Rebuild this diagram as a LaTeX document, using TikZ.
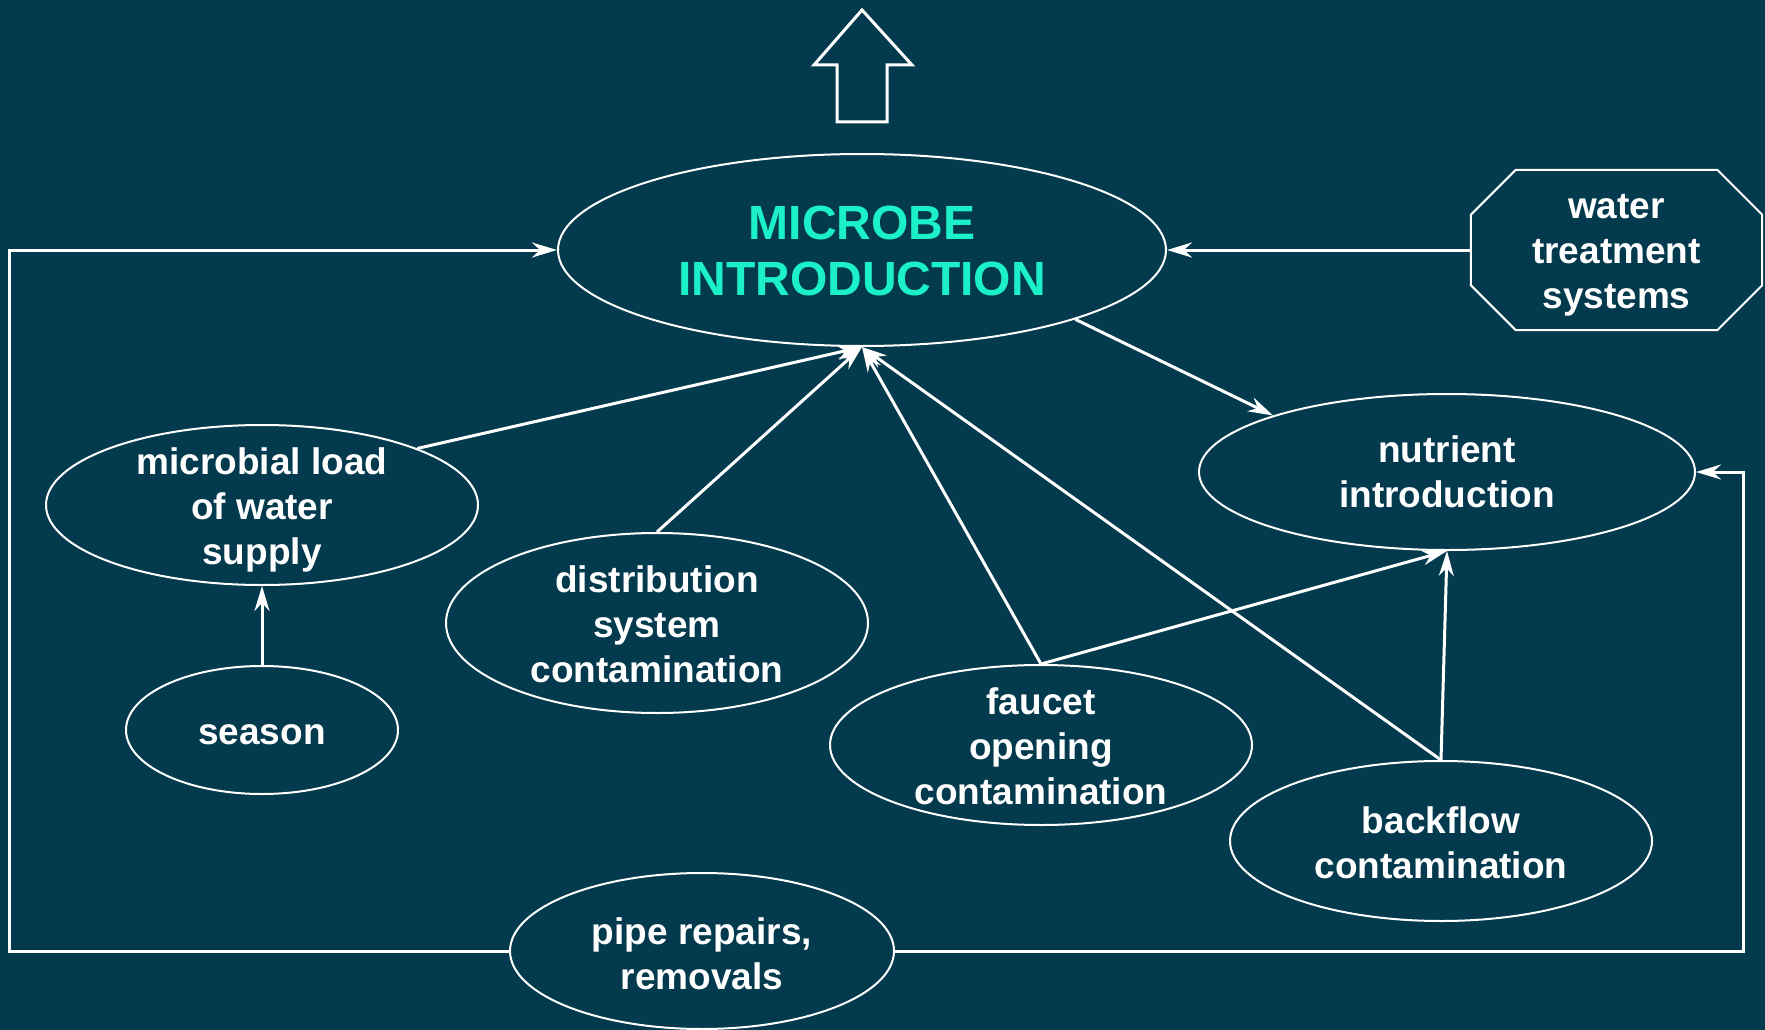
\documentclass[tikz,border=0pt]{standalone}
\usepackage{fontspec}
\setmainfont{Liberation Sans}
\usetikzlibrary{arrows.meta,shapes.geometric,calc}
\definecolor{bgteal}{HTML}{033A4D}
\definecolor{titlegreen}{HTML}{1CF0C8}
\tikzset{
  bubble/.style={ellipse, draw=white, line width=2pt, inner sep=0pt},
  words/.style={inner sep=0pt, text=white, align=center, yshift=#1,
    font=\bfseries\fontsize{37}{45}\selectfont},
  words/.default=-5pt,
  link/.style={draw=white, line width=3pt,
    -{Stealth[length=25pt, width=15pt, inset=8pt]}},
}
\begin{document}
\begin{tikzpicture}[x=1pt, y=-1pt]
  \fill[bgteal] (0,0) rectangle (1765,1030);
  \useasboundingbox (0,0) rectangle (1765,1030);

  % big outline arrow pointing up
  \draw[white, line width=3pt, line join=miter]
    (862,10) -- (912,65) -- (887,65) -- (887,122) -- (837,122)
    -- (837,65) -- (814,65) -- cycle;

  % ellipses
  \node[bubble, minimum width=608pt, minimum height=192pt] (micro) at (862,250) {};
  \node[bubble, minimum width=496pt, minimum height=156pt] (nutr) at (1447,472) {};
  \node[bubble, minimum width=432pt, minimum height=160pt] (load) at (262,505) {};
  \node[bubble, minimum width=272pt, minimum height=128pt] (season) at (262,730) {};
  \node[bubble, minimum width=422pt, minimum height=180pt] (dist) at (657,623) {};
  \node[bubble, minimum width=422pt, minimum height=160pt] (faucet) at (1041,745) {};
  \node[bubble, minimum width=422pt, minimum height=160pt] (back) at (1441,841) {};
  \node[bubble, minimum width=384pt, minimum height=156pt] (pipe) at (702,951) {};

  % octagon for treatment systems
  \node[rectangle, minimum width=291pt, minimum height=160pt, inner sep=0pt]
    (water) at (1616.5,250) {};
  \draw[white, line width=2pt]
    ($(water.north west)+(45,0)$) -- ($(water.north east)+(-45,0)$)
    -- ($(water.north east)+(0,45)$) -- ($(water.south east)+(0,-45)$)
    -- ($(water.south east)+(-45,0)$) -- ($(water.south west)+(45,0)$)
    -- ($(water.south west)+(0,-45)$) -- ($(water.north west)+(0,45)$)
    -- cycle;

  % labels
  \node[words=-1pt, text=titlegreen,
        font=\bfseries\fontsize{48}{56}\selectfont]
    (microtext) at (micro.center) {MICROBE\\INTRODUCTION};
  \node[words] (watertext) at (water.center) {water\\treatment\\systems};
  \node[words=0pt] (nutrtext) at (nutr.center) {nutrient\\introduction};
  \node[words] (loadtext) at (load.center) {microbial load\\of water\\supply};
  \node[words] (seasontext) at (season.center) {season};
  \node[words=-1.5pt] (disttext) at (dist.center) {distribution\\system\\contamination};
  \node[words=-1.5pt] (faucettext) at (faucet.center) {faucet\\opening\\contamination};
  \node[words=-2pt] (backtext) at (back.center) {backflow\\contamination};
  \node[words=-3pt] (pipetext) at (pipe.center) {pipe repairs,\\removals};

  % loop corners
  \coordinate (lft) at (9,600);
  \coordinate (rgt) at (1743,700);

  % connectors
  \draw[link] (water.west) -- (micro.east);
  \draw[link] (micro.-18) -- (nutr.162);
  \draw[link] (load.20) -- (micro.south);
  \draw[link] (dist.north) -- (micro.south);
  \draw[link] (faucet.north) -- (micro.south);
  \draw[link] (back.north) -- (micro.south);
  \draw[link] (faucet.north) -- (nutr.south);
  \draw[link] (back.north) -- (nutr.south);
  \draw[link] (season.north) -- (load.south);
  \draw[link] (pipe.west) -| (lft) |- (micro.west);
  \draw[link] (pipe.east) -| (rgt) |- (nutr.east);
\end{tikzpicture}
\end{document}
